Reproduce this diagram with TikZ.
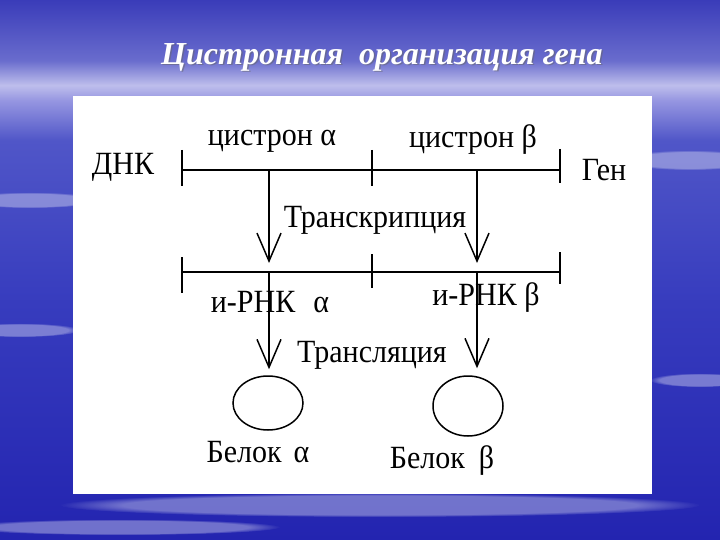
\documentclass[tikz,border=0pt]{standalone}
\usepackage{fontspec}
\setmainfont{Liberation Serif}
\usetikzlibrary{arrows.meta,shapes.geometric,fadings}

\definecolor{skytop}{RGB}{58,60,185}
\definecolor{skyhaze}{RGB}{105,108,205}
\definecolor{skypale}{RGB}{190,190,236}
\definecolor{skylav}{RGB}{150,150,225}
\definecolor{skymid}{RGB}{80,86,200}
\definecolor{skyblue}{RGB}{55,60,190}
\definecolor{skydeep}{RGB}{35,36,176}

\pgfdeclareverticalshading{sky}{100bp}{%
  color(0bp)=(skydeep); color(25bp)=(skydeep);
  color(47bp)=(skyblue); color(62bp)=(skymid);
  color(65.7bp)=(skylav); color(67.1bp)=(skypale);
  color(69.4bp)=(skyhaze); color(75bp)=(skytop); color(100bp)=(skytop)}

\tikzset{
  lbl/.style={font=\fontsize{30}{30}\selectfont, inner sep=0pt, yscale=1.08},
  strand/.style={line width=2.6pt},
  strandbar/.style={line width=2pt},
  flow/.style={line width=2pt, -{Straight Barb[length=28pt,width=24pt,line width=1.5pt]}},
  protein/.style={draw, ellipse, line width=1.5pt, inner sep=0pt},
  streak/.style={white, opacity=0.35, path fading=circle with fuzzy edge 20 percent}
}

\begin{document}
\begin{tikzpicture}[x=1pt, y=-1pt]
\useasboundingbox (0,0) rectangle (720,540);
% background
\shade[shading=sky] (0,0) rectangle (720,540);
\fill[streak] (30,200) ellipse (70 and 8);
\fill[streak] (20,330) ellipse (60 and 7);
\fill[streak] (690,160) ellipse (70 and 10);
\fill[streak] (700,380) ellipse (50 and 7);
\fill[streak] (380,505) ellipse (320 and 12);
\fill[streak] (120,527) ellipse (160 and 8);
% title
\node[font=\fontsize{32}{32}\selectfont\bfseries\itshape, text=black!60, opacity=0.5] at (383.5,58.5) {Цистронная\ \ организация гена};
\node[font=\fontsize{32}{32}\selectfont\bfseries\itshape, text=white] (title) at (382,57) {Цистронная\ \ организация гена};
% panel
\fill[white] (73,96) rectangle (652,494);

% strands
\coordinate (d0) at (182,170);
\coordinate (d2) at (560,170);
\coordinate (r0) at (182,272);
\coordinate (r2) at (560,272);
\draw[strand] (d0) -- (d2);
\draw[strand] (r0) -- (r2);
\foreach \x/\a/\b in {182/150/186, 372/150/186, 560/149/183,
                      182/257/293, 372/254/288, 560/252/284}
  \draw[strandbar] (\x,\a) -- (\x,\b);

% labels
\node[lbl] (dna)     at (123,167) {ДНК};
\node[lbl] (cisA)    at (272,141) {цистрон α};
\node[lbl] (cisB)    at (473,140) {цистрон β};
\node[lbl] (gene)    at (604,170) {Ген};
\node[lbl] (transcr) at (375,220) {Транскрипция};
\node[lbl] (mrnaA)   at (270,302) {и-РНК\hspace{18pt}α};
\node[lbl] (mrnaB)   at (486,298) {и-РНК β};
\node[lbl] (transl)  at (372,355) {Трансляция};
\node[lbl] (belA)    at (258,452) {Белок\hspace{12pt}α};
\node[lbl] (belB)    at (442,461) {Белок\hspace{14pt}β};

% proteins
\node[protein, minimum width=70pt, minimum height=54pt] (protA) at (268,403) {};
\node[protein, minimum width=70pt, minimum height=60pt] (protB) at (468,406) {};

% flow
\coordinate (cA) at (269,170);
\coordinate (cB) at (477,170);
\coordinate (mA) at (269,272);
\coordinate (mB) at (477,272);
\draw[flow] (cA) -- ([yshift=9pt]mA);
\draw[flow] (cB) -- ([yshift=9pt]mB);
\draw[flow] (mA) -- ([yshift=6pt]mA |- protA.north);
\draw[flow] (mB) -- ([yshift=7pt]mB |- protB.north);
\end{tikzpicture}
\end{document}
